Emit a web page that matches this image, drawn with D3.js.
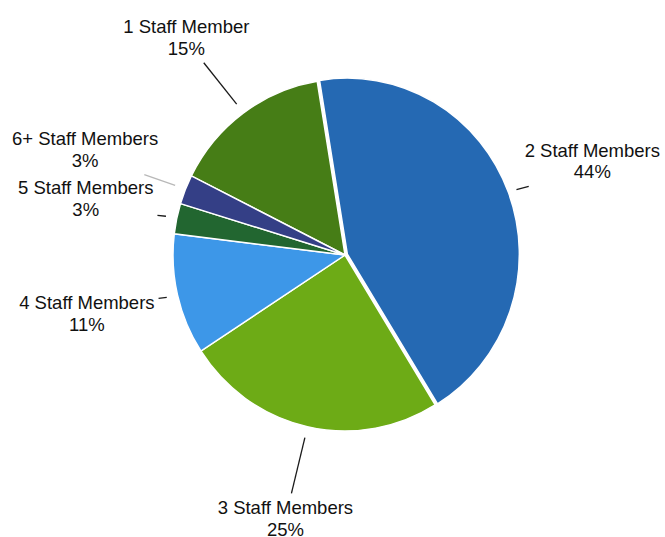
<!DOCTYPE html>
<html>
<head>
<meta charset="utf-8">
<script src="https://cdn.jsdelivr.net/npm/d3@7"></script>
<style>
  body { margin: 0; background: #fff; }
  text { font-family: Helvetica, Arial, "Liberation Sans", sans-serif; font-size: 18.5px; fill: #111; }
</style>
</head>
<body>
<div id="chart"></div>
<script>
// Data: share of respondents by staff size (percent)
var categories = ["1 Staff Member", "2 Staff Members", "3 Staff Members", "4 Staff Members", "5 Staff Members", "6+ Staff Members"];
var shares = [15.0, 43.8, 24.6, 11.1, 2.8, 2.7];

// Styling / layout per slice
var colors = ["#467d16", "#2569b3", "#6dab16", "#3d97e8", "#226630", "#343f86"];
var labelRadius = [268, 264, 272, 265, 265, 280];
var leaderColors = ["#1a1a1a", "#1a1a1a", "#1a1a1a", "#1a1a1a", "#1a1a1a", "#b8b8b8"];
var explode = [0, 2.5, 0, 0, 0, 0];

document.addEventListener("DOMContentLoaded", function () {

    var w = 665, h = 537;
    var cx = 345, cy = 255;
    var r = 172;
    var sy = 176 / 172;  // pie is drawn slightly taller than wide

    var dataset = categories.map(function (c, i) {
      return { name: c, share: shares[i], index: i };
    });
    var total = d3.sum(shares);

    var start = -63.3 * Math.PI / 180;
    var pie = d3.pie()
      .sort(null)
      .value(d => d.share)
      .startAngle(start)
      .endAngle(start + 2 * Math.PI);

    var arcs = pie(dataset);

    var arc = d3.arc()
      .innerRadius(0)
      .outerRadius(r);

    var svg = d3.select("#chart")
      .append("svg")
      .attr("width", w)
      .attr("height", h);

    // Slices
    var pieG = svg.append("g")
      .attr("transform", "translate(" + cx + "," + cy + ") scale(1," + sy + ")");

    pieG.selectAll("path")
      .data(arcs)
      .enter()
      .append("path")
      .attr("d", arc)
      .attr("fill", d => colors[d.data.index])
      .attr("stroke", "#fff")
      .attr("stroke-width", 1.5)
      .attr("vector-effect", "non-scaling-stroke")
      .attr("transform", function (d) {
        var a = (d.startAngle + d.endAngle) / 2;
        var e = explode[d.data.index];
        return "translate(" + (e * Math.sin(a)) + "," + (-e * Math.cos(a)) + ")";
      });

    // Labels and leader lines
    var labelG = svg.append("g")
      .attr("transform", "translate(" + cx + "," + cy + ")");

    arcs.forEach(function (d) {
      var i = d.data.index;
      var a = (d.startAngle + d.endAngle) / 2;
      var ux = Math.sin(a), uy = -Math.cos(a);
      var R = labelRadius[i];

      var text = labelG.append("text")
        .attr("text-anchor", "middle")
        .attr("x", R * ux)
        .attr("y", R * uy);
      text.append("tspan")
        .attr("x", R * ux)
        .attr("dy", "-0.32em")
        .text(d.data.name);
      text.append("tspan")
        .attr("x", R * ux)
        .attr("dy", "1.17em")
        .text(Math.round(d.data.share / total * 100) + "%");

      // find where the radial ray enters the (padded) label box
      var b = text.node().getBBox();
      var pad = 4;
      var lo = [b.x - pad, b.y - pad], hi = [b.x + b.width + pad, b.y + b.height + pad];
      var u = [ux, uy];
      var tEnter = 0;
      for (var k = 0; k < 2; k++) {
        if (Math.abs(u[k]) < 1e-9) continue;
        var t1 = lo[k] / u[k], t2 = hi[k] / u[k];
        tEnter = Math.max(tEnter, Math.min(t1, t2));
      }

      var r0 = 183;
      labelG.append("line")
        .attr("x1", r0 * ux)
        .attr("y1", r0 * uy * sy)
        .attr("x2", tEnter * ux)
        .attr("y2", tEnter * uy)
        .attr("stroke", leaderColors[i])
        .attr("stroke-width", 1.3);
    });
});
</script>
</body>
</html>
